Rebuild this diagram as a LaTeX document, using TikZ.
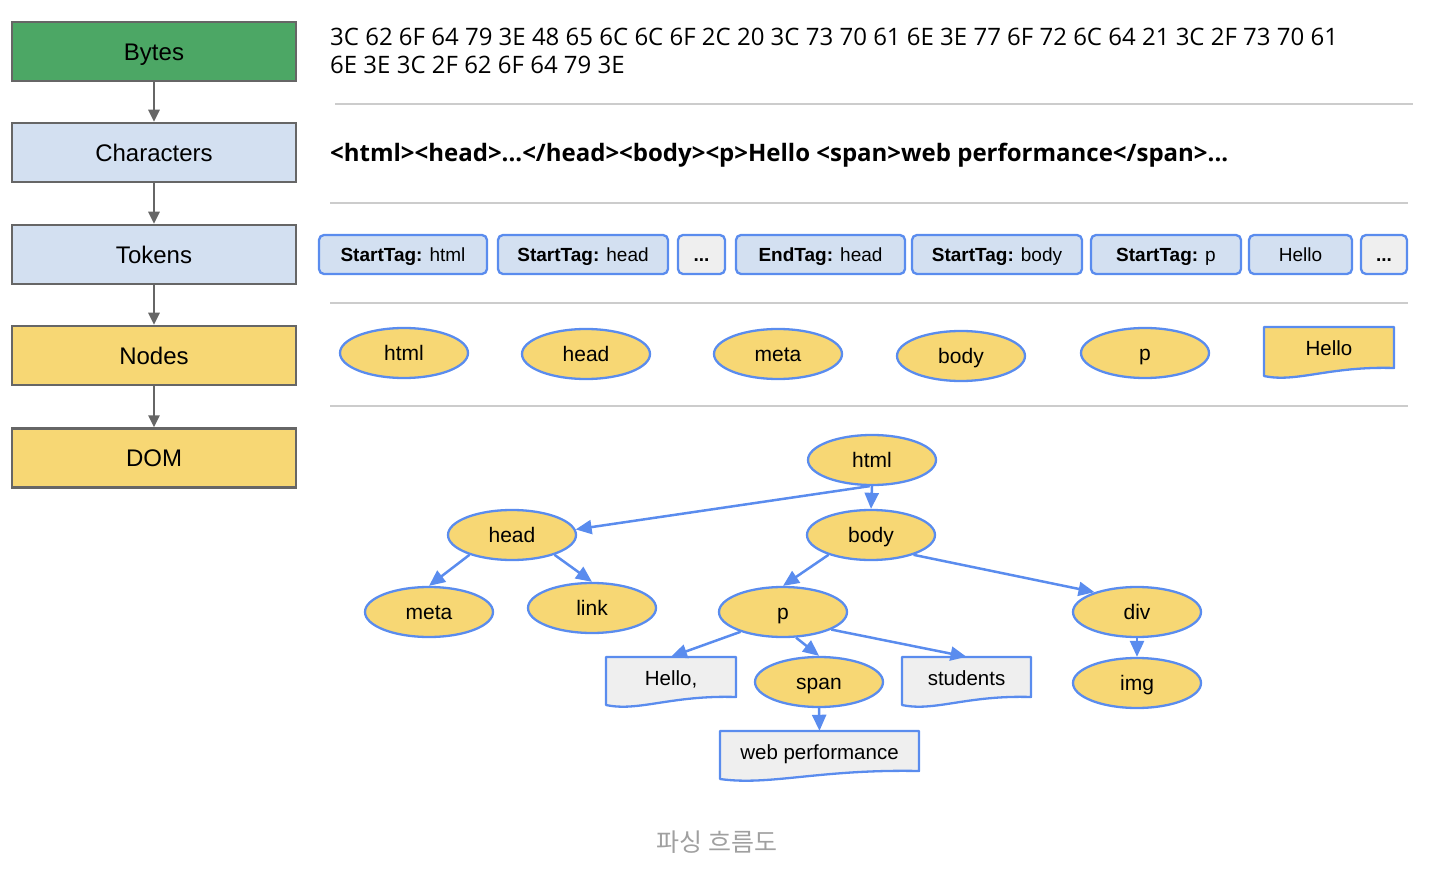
\documentclass[tikz,border=0pt]{standalone}
\usepackage{fontspec}
\setmainfont{Liberation Sans}
\newfontfamily\hexfont{Open Sans}
\newfontfamily\krfont{Noto Sans CJK KR}
\usetikzlibrary{shapes.geometric,arrows.meta}
\definecolor{bytegreen}{HTML}{4CA765}
\definecolor{boxgray}{HTML}{666666}
\definecolor{lblue}{HTML}{D3E0F1}
\definecolor{nyellow}{HTML}{F7D774}
\definecolor{nblue}{HTML}{5A8CEE}
\definecolor{docgray}{HTML}{EFEFEF}
\definecolor{sepgray}{HTML}{CCCCCC}
\definecolor{capgray}{HTML}{A0A0A0}
\newcommand\docshape[5]{%
  \begin{scope}[shift={(#1,#2)}]
    \filldraw[draw=nblue, line width=2.3pt, fill=#5, line join=round]
      (-#3/2,-#4/2) -- (#3/2,-#4/2) -- (#3/2,#4/2-8)
      .. controls (0,#4/2-10) and (-#3/4,#4/2+7) .. (-#3/2,#4/2) -- cycle;
  \end{scope}}
\begin{document}
\begin{tikzpicture}[x=1pt,y=-1pt,
  leftbox/.style={draw=boxgray, line width=2.5pt, minimum width=284pt, minimum height=59pt, inner sep=0pt, text height=17.2pt, text depth=0pt, font=\fontsize{24}{28}\selectfont},
  garrow/.style={draw=boxgray, line width=2.5pt, -{Triangle[length=12pt,width=11pt]}},
  sepline/.style={draw=sepgray, line width=2.5pt},
  tok/.style={draw=nblue, line width=2.3pt, rounded corners=5pt, fill=lblue, minimum height=39pt, inner sep=0pt, text height=13.6pt, text depth=0pt, font=\fontsize{19}{23}\selectfont},
  ell/.style={ellipse, draw=nblue, line width=2.3pt, fill=nyellow, minimum width=128pt, minimum height=50pt, inner sep=0pt, text height=15pt, text depth=0pt, font=\fontsize{21}{25}\selectfont},
  docnode/.style={rectangle, inner sep=0pt, text height=14.7pt, text depth=0pt, font=\fontsize{20.5}{24}\selectfont},
  barrow/.style={draw=nblue, line width=2.5pt, -{Triangle[length=16pt,width=14pt]}}
]
\useasboundingbox (0,0) rectangle (1448,874);

% left column
\node[leftbox, fill=bytegreen] (bytes) at (154,51.5) {Bytes};
\node[leftbox, fill=lblue] (chars) at (154,152.5) {Characters};
\node[leftbox, fill=lblue] (tokens) at (154,254.5) {Tokens};
\node[leftbox, fill=nyellow] (nodes) at (154,355.5) {Nodes};
\node[leftbox, fill=nyellow] (dom) at (154,458) {DOM};
\draw[garrow] (bytes.south) -- (chars.north);
\draw[garrow] (chars.south) -- (tokens.north);
\draw[garrow] (tokens.south) -- (nodes.north);
\draw[garrow] (nodes.south) -- (dom.north);

% separators
\draw[sepline] (335,104) -- (1413,104);
\draw[sepline] (330,203) -- (1408,203);
\draw[sepline] (330,303) -- (1408,303);
\draw[sepline] (330,406) -- (1408,406);

% bytes text
\node[anchor=base west, inner sep=0pt, font=\hexfont\fontsize{24}{28}\selectfont] (hex1) at (330,45.5)
  {3C 62 6F 64 79 3E 48 65 6C 6C 6F 2C 20 3C 73 70 61 6E 3E 77 6F 72 6C 64 21 3C 2F 73 70 61};
\node[anchor=base west, inner sep=0pt, font=\hexfont\fontsize{24}{28}\selectfont] (hex2) at (330,73.5)
  {6E 3E 3C 2F 62 6F 64 79 3E};
% characters text
\node[anchor=base west, inner sep=0pt, font=\hexfont\bfseries\fontsize{24}{28}\selectfont] (chartext) at (330,161.5)
  {<html><head>...</head><body><p>Hello <span>web performance</span>...};

% tokens
\node[tok, minimum width=168pt] (t1) at (403,254.5) {\textbf{StartTag:} html};
\node[tok, minimum width=170pt] (t2) at (583,254.5) {\textbf{StartTag:} head};
\node[tok, minimum width=47pt, fill=docgray] (t3) at (701.5,254.5) {\textbf{...}};
\node[tok, minimum width=169pt] (t4) at (820.5,254.5) {\textbf{EndTag:} head};
\node[tok, minimum width=170pt] (t5) at (997,254.5) {\textbf{StartTag:} body};
\node[tok, minimum width=150pt] (t6) at (1166,254.5) {\textbf{StartTag:} p};
\node[tok, minimum width=103pt] (t7) at (1300.5,254.5) {Hello};
\node[tok, minimum width=46pt, fill=docgray] (t8) at (1384,254.5) {\textbf{...}};

% nodes row
\node[ell] (n1) at (404,353) {html};
\node[ell] (n2) at (586,354) {head};
\node[ell] (n3) at (778,354) {meta};
\node[ell] (n4) at (961,356) {body};
\node[ell] (n5) at (1145,353) {p};
\docshape{1329}{351.5}{130}{49}{nyellow}
\node[docnode, minimum width=130pt] (n6) at (1329,348) {Hello};

% DOM tree
\node[ell] (html) at (872,460) {html};
\node[ell] (head) at (512,535) {head};
\node[ell] (body) at (871,535) {body};
\node[ell] (meta) at (429,612) {meta};
\node[ell] (link) at (592,608) {link};
\node[ell] (p) at (783,612) {p};
\node[ell] (div) at (1137,612) {div};
\node[ell] (span) at (819,682) {span};
\node[ell] (img) at (1137,683) {img};
\docshape{671}{681}{130}{48}{docgray}
\node[rectangle, inner sep=0pt, minimum width=130pt, minimum height=48pt] (hello) at (671,681) {};
\node[docnode] (hellotext) at (671,678) {Hello,};
\docshape{966.5}{681}{129}{48}{docgray}
\node[rectangle, inner sep=0pt, minimum width=129pt, minimum height=48pt] (students) at (966.5,681) {};
\node[docnode] (studentstext) at (966.5,678) {students};
\docshape{819.5}{755}{199}{48}{docgray}
\node[rectangle, inner sep=0pt, minimum width=199pt, minimum height=48pt] (web) at (819.5,755) {};
\node[docnode] (webtext) at (819.5,752) {web performance};

\draw[barrow] (html.265) -- (head.5);
\draw[barrow] (html.south) -- (body.north);
\draw[barrow] (head.205) -- (meta.north);
\draw[barrow] (head.335) -- (link.north);
\draw[barrow] (body.205) -- (p.north);
\draw[barrow] (body.335) -- (div.155);
\draw[barrow] (p.205) -- (hello.north);
\draw[barrow] (p.297) -- (span.north);
\draw[barrow] (p.340) -- (students.north);
\draw[barrow] (span.south) -- (web.north);
\draw[barrow] (div.south) -- (img.north);

% caption
\node[font=\krfont\fontsize{25}{29}\selectfont, text=capgray] (caption) at (717,842) {파싱 흐름도};
\end{tikzpicture}
\end{document}
